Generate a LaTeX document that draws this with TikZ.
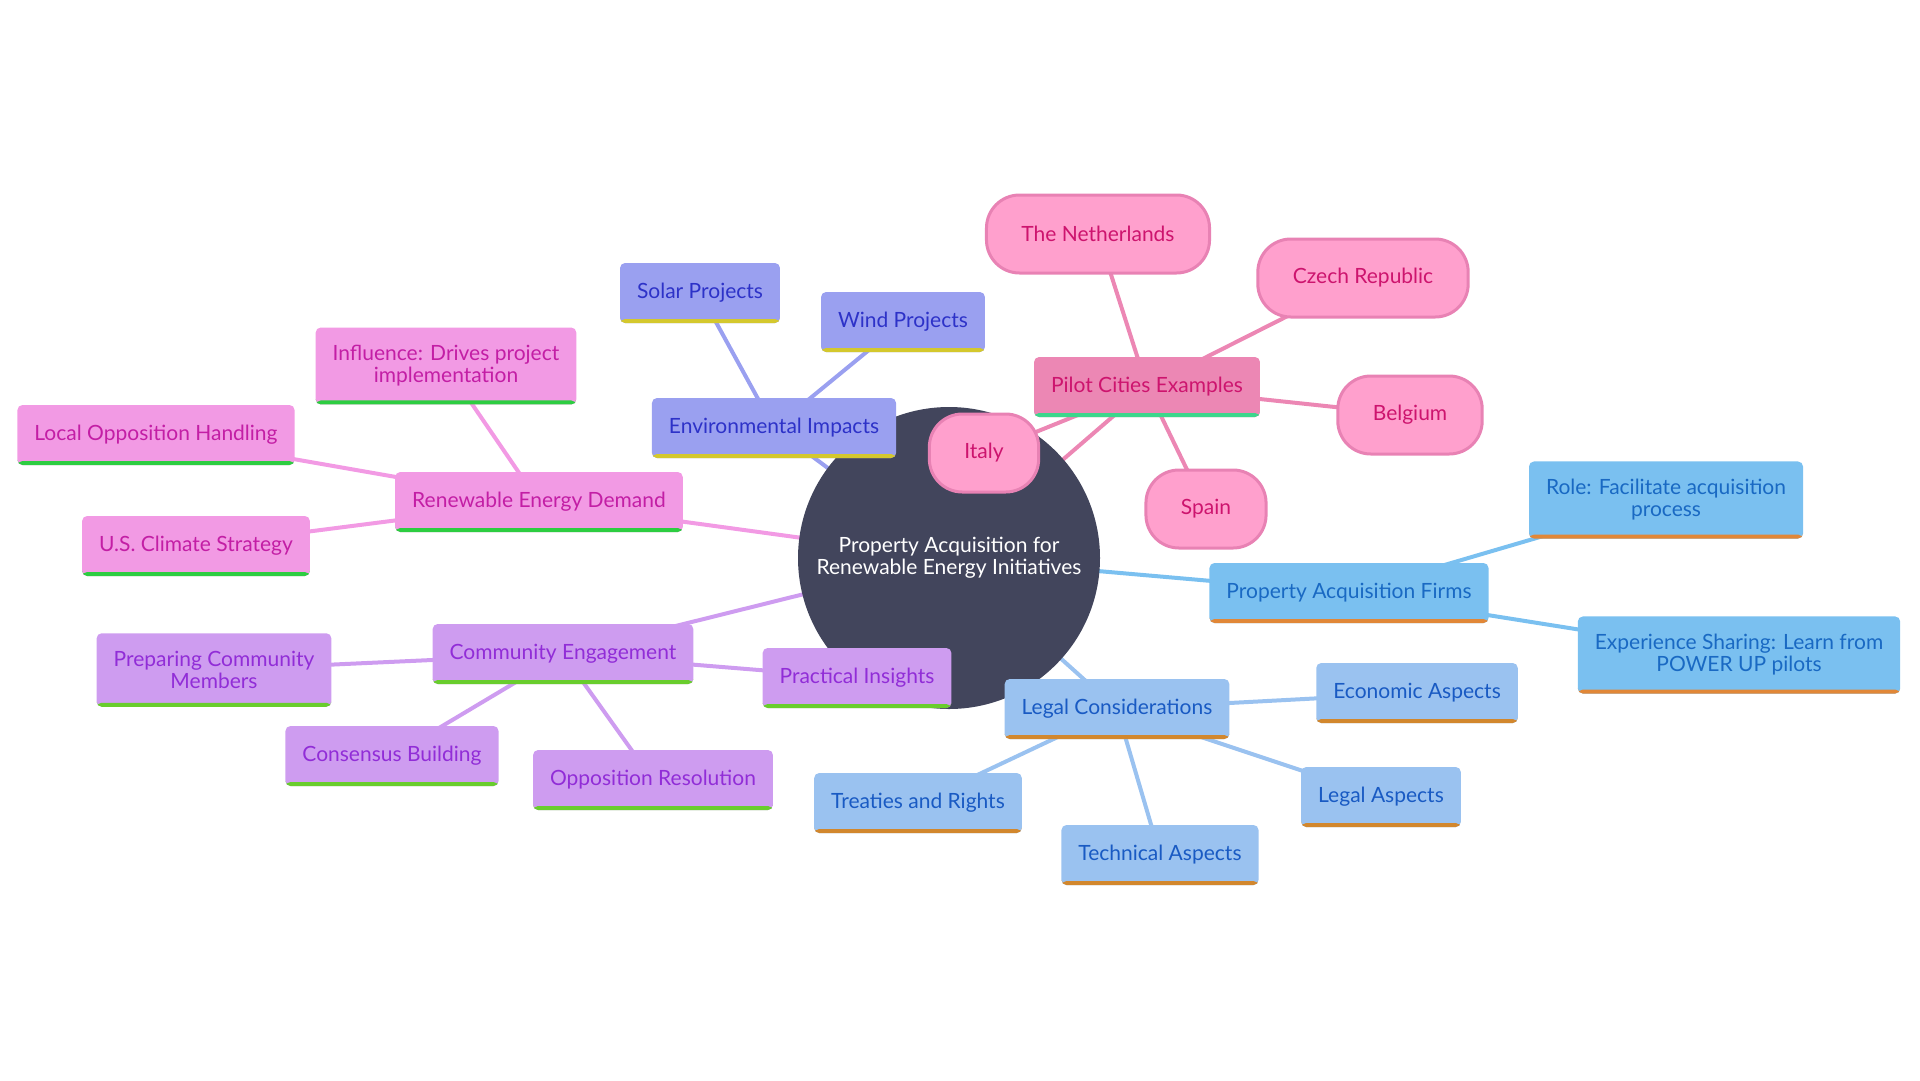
\documentclass[tikz,border=0pt]{standalone}
\usepackage{fontspec}
\setmainfont{Lato}
\usetikzlibrary{backgrounds}

\definecolor{rootfill}{RGB}{66,69,92}
\definecolor{envfill}{RGB}{154,160,240}
\definecolor{envtext}{RGB}{45,50,200}
\definecolor{envline}{RGB}{212,200,45}
\definecolor{pilotfill}{RGB}{236,135,180}
\definecolor{pilottext}{RGB}{205,20,110}
\definecolor{pilotline}{RGB}{60,215,140}
\definecolor{pillfill}{RGB}{255,160,205}
\definecolor{pilldraw}{RGB}{232,130,180}
\definecolor{redfill}{RGB}{242,154,228}
\definecolor{redtext}{RGB}{195,30,165}
\definecolor{redline}{RGB}{45,205,65}
\definecolor{comfill}{RGB}{206,156,240}
\definecolor{comtext}{RGB}{145,45,215}
\definecolor{comline}{RGB}{105,205,45}
\definecolor{legfill}{RGB}{154,194,240}
\definecolor{legtext}{RGB}{25,90,195}
\definecolor{legline}{RGB}{210,135,45}
\definecolor{paffill}{RGB}{122,192,240}
\definecolor{paftext}{RGB}{25,105,195}
\definecolor{pafline}{RGB}{225,135,55}

\tikzset{
  box/.style={rectangle, rounded corners=5pt, minimum height=60pt, inner xsep=17pt, inner ysep=18pt, align=center},
  uline/.style={path picture={\fill[#1] ([yshift=4pt]path picture bounding box.south west) rectangle (path picture bounding box.south east);}},
  envbox/.style={box, fill=envfill, text=envtext, uline=envline},
  pilotbox/.style={box, fill=pilotfill, text=pilottext, uline=pilotline},
  redbox/.style={box, fill=redfill, text=redtext, uline=redline},
  combox/.style={box, fill=comfill, text=comtext, uline=comline},
  legbox/.style={box, fill=legfill, text=legtext, uline=legline},
  pafbox/.style={box, fill=paffill, text=paftext, uline=pafline},
  pill/.style={rectangle, rounded corners=33pt, draw=pilldraw, line width=3pt, fill=pillfill, text=pilottext, minimum height=78pt, inner xsep=35pt},
  link/.style={line width=4pt, line cap=round},
}

\begin{document}
\begin{tikzpicture}[x=1pt, y=-1pt, font=\fontsize{21}{22}\selectfont]
  \useasboundingbox (0,0) rectangle (1920,1080);

  \node[circle, fill=rootfill, text=white, minimum size=302pt, align=center] (root) at (949,558)
    {Property Acquisition for\\Renewable Energy Initiatives};

  % environmental
  \node[envbox] (env) at (774,428) {Environmental Impacts};
  \node[envbox] (solar) at (700,293) {Solar Projects};
  \node[envbox] (wind) at (903,322) {Wind Projects};

  % pilot cities
  \node[pilotbox] (pilot) at (1147,387) {Pilot Cities Examples};
  \node[pill] (neth) at (1098,234) {The Netherlands};
  \node[pill] (czech) at (1363,278) {Czech Republic};
  \node[pill] (belg) at (1410,415) {Belgium};
  \node[pill] (spain) at (1206,509) {Spain};
  \node[pill] (italy) at (984,453) {Italy};

  % renewable demand
  \node[redbox] (red) at (539,502) {Renewable Energy Demand};
  \node[redbox] (infl) at (446,366) {Influence: Drives project\\implementation};
  \node[redbox] (loh) at (156,435) {Local Opposition Handling};
  \node[redbox] (usc) at (196,546) {U.S. Climate Strategy};

  % community
  \node[combox] (com) at (563,654) {Community Engagement};
  \node[combox] (prep) at (214,670) {Preparing Community\\Members};
  \node[combox] (cons) at (392,756) {Consensus Building};
  \node[combox] (oppo) at (653,780) {Opposition Resolution};
  \node[combox] (prac) at (857,678) {Practical Insights};

  % legal
  \node[legbox] (legal) at (1117,709) {Legal Considerations};
  \node[legbox] (econ) at (1417,693) {Economic Aspects};
  \node[legbox] (legasp) at (1381,797) {Legal Aspects};
  \node[legbox] (tech) at (1160,855) {Technical Aspects};
  \node[legbox] (treat) at (918,803) {Treaties and Rights};

  % firms
  \node[pafbox] (paf) at (1349,593) {Property Acquisition Firms};
  \node[pafbox] (role) at (1666,500) {Role: Facilitate acquisition\\process};
  \node[pafbox] (exp) at (1739,655) {Experience Sharing: Learn from\\POWER UP pilots};

  \begin{scope}[on background layer]
    \draw[link, envfill] (root.center) -- (env.center);
    \draw[link, envfill] (env.center) -- (solar.center);
    \draw[link, envfill] (env.center) -- (wind.center);
    \draw[link, pilotfill] (root.center) -- (pilot.center);
    \foreach \c in {neth, czech, belg, spain, italy}
      \draw[link, pilotfill] (pilot.center) -- (\c.center);
    \draw[link, redfill] (root.center) -- (red.center);
    \foreach \c in {infl, loh, usc}
      \draw[link, redfill] (red.center) -- (\c.center);
    \draw[link, comfill] (root.center) -- (com.center);
    \foreach \c in {prep, cons, oppo, prac}
      \draw[link, comfill] (com.center) -- (\c.center);
    \draw[link, legfill] (root.center) -- (legal.center);
    \foreach \c in {econ, legasp, tech, treat}
      \draw[link, legfill] (legal.center) -- (\c.center);
    \draw[link, paffill] (root.center) -- (paf.center);
    \foreach \c in {role, exp}
      \draw[link, paffill] (paf.center) -- (\c.center);
  \end{scope}
\end{tikzpicture}
\end{document}
